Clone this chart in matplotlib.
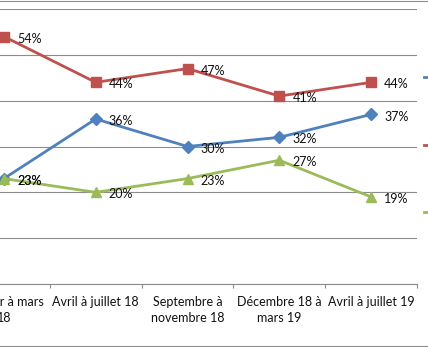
import matplotlib
matplotlib.use("Agg")
import matplotlib.pyplot as plt
from matplotlib.lines import Line2D
from matplotlib.ticker import FixedLocator

plt.rcParams['font.family'] = ['Lato', 'DejaVu Sans']

# --- data ---
periods = ["Janvier à mars\n18", "Avril à juillet 18", "Septembre à\nnovembre 18",
           "Décembre 18 à\nmars 19", "Avril à juillet 19"]
serie_bleue = [23, 36, 30, 32, 37]
serie_rouge = [54, 44, 47, 41, 44]
serie_verte = [23, 20, 23, 27, 19]
noms = ["Série 1", "Série 2", "Série 3"]

blue, red, green = "#4F81BD", "#C0504D", "#9BBB59"
grid_col = "#8c8c8c"

W, H = 428, 347
fig = plt.figure(figsize=(W / 100, H / 100), dpi=100)
# plot area runs past the left edge of the crop
ax = fig.add_axes([-42 / W, (H - 284) / H, 459 / W, 275 / H])

x = range(len(periods))
styles = [(serie_bleue, blue, "D", 6.0), (serie_rouge, red, "s", 6.5), (serie_verte, green, "^", 7.5)]
handles = []
for vals, col, mk, ms in styles:
    ln, = ax.plot(x, vals, color=col, lw=2.0, marker=mk, ms=ms, mec=col, mfc=col, clip_on=False)
    handles.append(ln)
    for xi, v in zip(x, vals):
        ax.annotate(f"{v}%", (xi, v), xytext=(9.4, -1.5), textcoords="offset points",
                    ha="left", va="center", fontsize=9, color="#111111")

ax.set_xlim(-0.5, len(periods) - 0.5)
ax.set_ylim(0, 60)
ax.yaxis.set_major_locator(FixedLocator([0, 10, 20, 30, 40, 50, 60]))
ax.grid(axis="y", color=grid_col, lw=0.8)
ax.set_axisbelow(True)

ax.set_xticks(list(x))
ax.set_xticklabels(periods, fontsize=9, color="#111111", linespacing=1.35)
ax.tick_params(axis="x", which="major", length=0, pad=9)
ax.set_xticks([i - 0.5 for i in range(len(periods) + 1)], minor=True)
ax.tick_params(axis="x", which="minor", length=3, color=grid_col, width=0.8, direction="out")
# y axis labels sit outside the cropped view
ax.tick_params(axis="y", length=0, labelleft=False)

for s in ["top", "right", "left"]:
    ax.spines[s].set_visible(False)
ax.spines["bottom"].set_color(grid_col)
ax.spines["bottom"].set_linewidth(0.8)

# legend, mostly outside the crop on the right
fig.legend(handles, noms, loc="center left", bbox_to_anchor=(424 / W, (H - 145) / H),
           frameon=False, fontsize=9, handlelength=2.2, handletextpad=0.5,
           labelspacing=4.45, borderpad=0, borderaxespad=0)

# chart border top and bottom
fig.add_artist(Line2D([0, 1], [1 - 1 / H, 1 - 1 / H], transform=fig.transFigure, color=grid_col, lw=0.8))
fig.add_artist(Line2D([0, 1], [1.5 / H, 1.5 / H], transform=fig.transFigure, color=grid_col, lw=0.8))

fig.savefig("out.png", dpi=100)
